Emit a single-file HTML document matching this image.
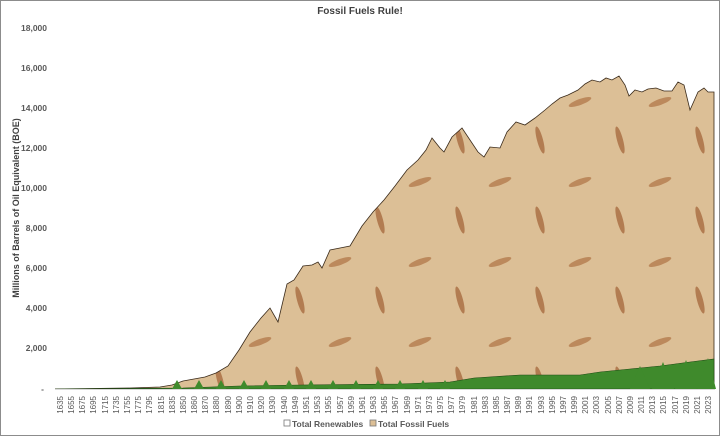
<!DOCTYPE html>
<html><head><meta charset="utf-8"><style>
body{margin:0;background:#fff}
svg{display:block;font-family:"Liberation Sans",sans-serif}
</style></head><body>
<svg width="720" height="436" viewBox="0 0 720 436">
<defs>
<pattern id="fish" width="80" height="80" patternUnits="userSpaceOnUse">
<rect width="80" height="80" fill="#dcbf96"/>
<ellipse cx="20" cy="22" rx="12" ry="3" fill="#b47c4e" opacity="0.8" transform="rotate(-20 20 22)"/>
<ellipse cx="60" cy="60" rx="3" ry="14" fill="#a86c40" opacity="0.8" transform="rotate(-15 60 60)"/>
</pattern>
</defs>
<rect x="0.5" y="0.5" width="719" height="435" fill="#fff" stroke="#8c8c8c"/>
<text x="360" y="14" text-anchor="middle" font-size="10" font-weight="bold" fill="#404040">Fossil Fuels Rule!</text>
<text transform="translate(19,208) rotate(-90)" text-anchor="middle" font-size="9" font-weight="bold" fill="#404040">Millions of Barrels of Oil Equivalent (BOE)</text>
<g font-size="8.5" font-weight="bold" fill="#595959" text-anchor="end">
<text x="47" y="31">18,000</text><text x="47" y="71">16,000</text><text x="47" y="111">14,000</text>
<text x="47" y="151">12,000</text><text x="47" y="191">10,000</text><text x="47" y="231">8,000</text>
<text x="47" y="271">6,000</text><text x="47" y="311">4,000</text><text x="47" y="351">2,000</text>
<text x="44" y="392">-</text>
</g>
<polygon fill="url(#fish)" stroke="#3a2a1a" stroke-width="0.8" points="55,389 130,388 160,387 172,385 183,381 194,379 205,377 216,373 228,366 239,350 250,332 261,318 270,308 278,322 287,284 294,280 303,266 312,265 318,262 322,268 330,250 340,248 350,246 362,226 373,212 384,200 395,186 407,170 418,160 426,150 432,138 440,148 444,152 452,137 462,128 470,140 478,152 484,157 490,147 500,148 507,132 516,122 525,125 535,118 545,110 552,104 560,98 568,95 578,90 585,84 592,80 600,82 606,78 612,80 619,76 625,85 629,96 635,90 642,92 648,89 656,88 664,91 672,91 678,82 684,85 690,110 698,92 704,88 708,92 714,92 714,389"/>
<polygon fill="#3f8a2c" stroke="#1e4a14" stroke-width="0.6" points="55,389 183,388 239,386 300,385 400,384 450,382 474,378 520,375 580,375 600,372 630,369 660,366 690,362 714,359 714,389"/>
<g fill="#3f8a2c">
<polygon points="172,389 177,380 182,389"/><polygon points="194,389 199,380 204,389"/><polygon points="216,389 221,380 226,389"/><polygon points="239,389 244,380 249,389"/><polygon points="261,389 266,380 271,389"/><polygon points="284,389 289,380 294,389"/><polygon points="306,389 311,380 316,389"/><polygon points="328,389 333,380 338,389"/><polygon points="351,389 356,380 361,389"/><polygon points="373,389 378,380 383,389"/><polygon points="395,389 400,380 405,389"/><polygon points="418,389 423,380 428,389"/><polygon points="440,389 445,380 450,389"/>
<polygon points="630,389 640,366 650,389"/><polygon points="652,389 663,362 674,389"/><polygon points="675,389 686,360 697,389"/><polygon points="697,389 708,358 716,389"/>
</g>
<line x1="55" y1="389.5" x2="714" y2="389.5" stroke="#d9d9d9"/>
<g font-size="8" fill="#595959" text-anchor="end">
<text transform="translate(63,396) rotate(-90)">1635</text><text transform="translate(74,396) rotate(-90)">1655</text><text transform="translate(85,396) rotate(-90)">1675</text><text transform="translate(96,396) rotate(-90)">1695</text><text transform="translate(108,396) rotate(-90)">1715</text><text transform="translate(119,396) rotate(-90)">1735</text><text transform="translate(130,396) rotate(-90)">1755</text><text transform="translate(141,396) rotate(-90)">1775</text><text transform="translate(152,396) rotate(-90)">1795</text><text transform="translate(164,396) rotate(-90)">1815</text><text transform="translate(175,396) rotate(-90)">1835</text><text transform="translate(186,396) rotate(-90)">1850</text><text transform="translate(197,396) rotate(-90)">1860</text><text transform="translate(208,396) rotate(-90)">1870</text><text transform="translate(219,396) rotate(-90)">1880</text><text transform="translate(231,396) rotate(-90)">1890</text><text transform="translate(242,396) rotate(-90)">1900</text><text transform="translate(253,396) rotate(-90)">1910</text><text transform="translate(264,396) rotate(-90)">1920</text><text transform="translate(275,396) rotate(-90)">1930</text><text transform="translate(287,396) rotate(-90)">1940</text><text transform="translate(298,396) rotate(-90)">1949</text><text transform="translate(309,396) rotate(-90)">1951</text><text transform="translate(320,396) rotate(-90)">1953</text><text transform="translate(331,396) rotate(-90)">1955</text><text transform="translate(343,396) rotate(-90)">1957</text><text transform="translate(354,396) rotate(-90)">1959</text><text transform="translate(365,396) rotate(-90)">1961</text><text transform="translate(376,396) rotate(-90)">1963</text><text transform="translate(387,396) rotate(-90)">1965</text><text transform="translate(398,396) rotate(-90)">1967</text><text transform="translate(410,396) rotate(-90)">1969</text><text transform="translate(421,396) rotate(-90)">1971</text><text transform="translate(432,396) rotate(-90)">1973</text><text transform="translate(443,396) rotate(-90)">1975</text><text transform="translate(454,396) rotate(-90)">1977</text><text transform="translate(465,396) rotate(-90)">1979</text><text transform="translate(477,396) rotate(-90)">1981</text><text transform="translate(488,396) rotate(-90)">1983</text><text transform="translate(499,396) rotate(-90)">1985</text><text transform="translate(510,396) rotate(-90)">1987</text><text transform="translate(521,396) rotate(-90)">1989</text><text transform="translate(532,396) rotate(-90)">1991</text><text transform="translate(544,396) rotate(-90)">1993</text><text transform="translate(555,396) rotate(-90)">1995</text><text transform="translate(566,396) rotate(-90)">1997</text><text transform="translate(577,396) rotate(-90)">1999</text><text transform="translate(588,396) rotate(-90)">2001</text><text transform="translate(599,396) rotate(-90)">2003</text><text transform="translate(611,396) rotate(-90)">2005</text><text transform="translate(622,396) rotate(-90)">2007</text><text transform="translate(633,396) rotate(-90)">2009</text><text transform="translate(644,396) rotate(-90)">2011</text><text transform="translate(655,396) rotate(-90)">2013</text><text transform="translate(666,396) rotate(-90)">2015</text><text transform="translate(678,396) rotate(-90)">2017</text><text transform="translate(689,396) rotate(-90)">2019</text><text transform="translate(700,396) rotate(-90)">2021</text><text transform="translate(711,396) rotate(-90)">2023</text>
</g>
<rect x="284" y="420" width="6" height="6" fill="#fff" stroke="#777" stroke-width="0.8"/>
<text x="292" y="427" font-size="8.5" font-weight="bold" fill="#595959">Total Renewables</text>
<rect x="370" y="420" width="6" height="6" fill="#dcbf96" stroke="#777" stroke-width="0.8"/>
<text x="378" y="427" font-size="8.5" font-weight="bold" fill="#595959">Total Fossil Fuels</text>
</svg>
</body></html>
